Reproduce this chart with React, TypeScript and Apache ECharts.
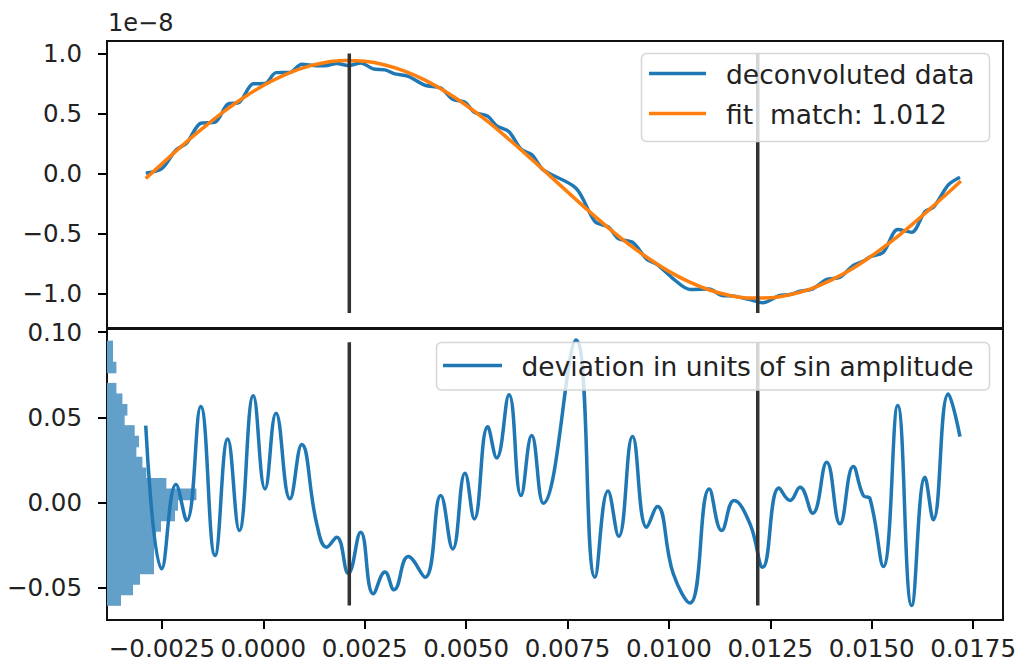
import React, { useEffect, useRef } from "react";
import * as echarts from "echarts";

const FONT = "DejaVu Sans";
const BLUE = "#1f77b4";
const ORANGE = "#ff7f0e";
const TXT = "#222";
const FS_TICK = 24.5;
const FS_LEG = 26.5;

// x in units of 1e-3
const X_MIN = -3.854;
const X_MAX = 18.237;
// first tick is put on its own axis so that its (overlapping) label is kept
const xTicksFirst = [-2.5];
const xTicksRest = [0, 2.5, 5, 7.5, 10, 12.5, 15, 17.5];
const topYTicks = [-1, -0.5, 0, 0.5, 1];
const botYTicks = [-0.05, 0, 0.05, 0.1];

// fit (orange), values in units of 1e-8
const xFit = [-2.9, -2.5, -2.0, -1.5, -1.0, -0.5, 0.0, 0.5, 1.0, 1.5, 2.0, 2.5, 3.0, 3.5, 4.0, 4.5, 5.0, 5.5, 6.0, 6.5, 7.0, 7.5, 8.0, 8.5, 9.0, 9.5, 10.0, 10.5, 11.0, 11.5, 12.0, 12.5, 13.0, 13.5, 14.0, 14.5, 15.0, 15.5, 16.0, 16.5, 17.0, 17.2];
const yFit = [-0.040, 0.082, 0.234, 0.377, 0.511, 0.630, 0.734, 0.818, 0.883, 0.923, 0.941, 0.935, 0.905, 0.852, 0.777, 0.682, 0.570, 0.443, 0.302, 0.155, 0.003, -0.151, -0.303, -0.448, -0.583, -0.705, -0.812, -0.900, -0.967, -1.012, -1.034, -1.032, -1.005, -0.957, -0.885, -0.794, -0.683, -0.559, -0.421, -0.274, -0.123, -0.061];

// data sample positions (shared by deconvoluted data and deviation)
const xData = [-2.899, -2.505, -2.152, -1.889, -1.543, -1.191, -0.878, -0.592, -0.247, 0.042, 0.313, 0.658, 0.947, 1.317, 1.563, 1.810, 2.096, 2.401, 2.712, 3.000, 3.222, 3.575, 3.987, 4.374, 4.670, 4.973, 5.202, 5.533, 5.754, 6.058, 6.354, 6.617, 6.903, 7.710, 8.178, 8.499, 8.762, 9.103, 9.453, 9.714, 10.108, 10.520, 10.996, 11.302, 11.605, 11.999, 12.313, 12.714, 12.986, 13.232, 13.545, 13.891, 14.218, 14.546, 14.793, 14.958, 15.286, 15.641, 15.986, 16.314, 16.519, 16.889, 17.177];
const yData = [0.005, 0.042, 0.198, 0.255, 0.420, 0.429, 0.578, 0.594, 0.748, 0.750, 0.841, 0.843, 0.911, 0.898, 0.901, 0.917, 0.900, 0.921, 0.872, 0.864, 0.833, 0.810, 0.736, 0.713, 0.619, 0.594, 0.511, 0.478, 0.398, 0.349, 0.203, 0.159, 0.032, -0.120, -0.399, -0.441, -0.541, -0.570, -0.710, -0.755, -0.874, -0.962, -0.959, -1.013, -1.018, -1.047, -1.073, -1.015, -1.005, -0.977, -0.957, -0.879, -0.860, -0.763, -0.727, -0.691, -0.653, -0.464, -0.486, -0.315, -0.280, -0.093, -0.029];
const yDev = [0.0451, -0.0389, 0.0106, -0.0106, 0.0563, -0.0311, 0.0373, -0.0164, 0.0627, 0.0080, 0.0524, 0.0022, 0.0340, -0.0125, -0.0262, -0.0203, -0.0416, -0.0174, -0.0535, -0.0408, -0.0512, -0.0317, -0.0438, 0.0041, -0.0272, 0.0172, -0.0096, 0.0445, 0.0262, 0.0633, 0.0041, 0.0393, -0.0004, 0.0954, -0.0438, 0.0068, -0.0198, 0.0388, -0.0145, -0.0023, -0.0418, -0.0590, 0.0080, -0.0164, 0.0012, -0.0125, -0.0379, 0.0085, 0.0012, 0.0090, -0.0063, 0.0236, -0.0125, 0.0211, 0.0041, 0.0022, -0.0375, 0.0569, -0.0604, 0.0148, -0.0101, 0.0637, 0.0387];

// vertical marker lines
const vlineX = [2.12, 12.19];
const vlineTopRange = [-1.158, 1.0];
const vlineBotRange = [-0.0604, 0.094];

// horizontal histogram of deviations
const histEdges = [0.0947, 0.0885, 0.0823, 0.0761, 0.0699, 0.0637, 0.0575, 0.0513, 0.0451, 0.0389, 0.0327, 0.0265, 0.0203, 0.0141, 0.0079, 0.0017, -0.0045, -0.0107, -0.0169, -0.0231, -0.0293, -0.0355, -0.0417, -0.0479, -0.0541, -0.0603];
const histLengths = [0.148, 0.148, 0.232, 0, 0.232, 0.380, 0.503, 0.436, 0.683, 0.789, 0.725, 0.873, 0.971, 1.464, 2.204, 1.750, 1.677, 1.331, 1.208, 1.159, 1.159, 1.159, 0.814, 0.641, 0.345];

const minus = (s: string) => s.replace("-", "\u2212");
const fmt = (v: number, d: number) => (v < -1e-12 ? "\u2212" : "") + Math.abs(v).toFixed(d);

function buildOption() {
  const zip = (xs: number[], ys: number[]) => xs.map((x, i) => [x, ys[i]]);
  const histData = histLengths.map((len, i) => [histEdges[i], histEdges[i + 1], len]);
  const vlineSeries = (gi: number, range: number[]) =>
    vlineX.map((x) => ({
      type: "line",
      xAxisIndex: gi,
      yAxisIndex: gi,
      data: [[x, range[0]], [x, range[1]]],
      showSymbol: false,
      lineStyle: { color: "#333", width: 3.5 },
      z: 5,
      silent: true,
    }));
  const labelStyle = {
    fontFamily: FONT, fontSize: FS_TICK, color: TXT,
    showMinLabel: true, showMaxLabel: true, hideOverlap: false,
  };
  const tick = { show: true, length: 9, lineStyle: { color: "#000", width: 2 } };
  const noLine = { show: false, onZero: false };
  const gridBase = {
    left: 107, width: 896, show: true, borderColor: "#111", borderWidth: 2,
    backgroundColor: "transparent", containLabel: false, outerBoundsMode: "none",
  };
  const bottomX = (ticks: number[]) => ({
    type: "value", gridIndex: 1, min: X_MIN, max: X_MAX, position: "bottom", offset: 0,
    axisLine: noLine, splitLine: { show: false },
    axisTick: { ...tick, customValues: ticks },
    axisLabel: { ...labelStyle, margin: 16, customValues: ticks, formatter: (v: number) => fmt(v / 1000, 4) },
  });

  return {
    animation: false,
    backgroundColor: "#fff",
    grid: [
      { ...gridBase, top: 41, height: 287 },
      { ...gridBase, top: 329, height: 291 },
    ],
    xAxis: [
      {
        type: "value", gridIndex: 0, min: X_MIN, max: X_MAX, position: "bottom",
        axisLine: noLine, axisTick: { show: false }, axisLabel: { show: false }, splitLine: { show: false },
      },
      bottomX(xTicksRest),
      bottomX(xTicksFirst),
    ],
    yAxis: [
      {
        type: "value", gridIndex: 0, min: -1.283, max: 1.104, position: "left",
        axisLine: noLine, splitLine: { show: false },
        axisTick: { ...tick, customValues: topYTicks },
        axisLabel: { ...labelStyle, margin: 25, customValues: topYTicks, formatter: (v: number) => fmt(v, 1) },
      },
      {
        type: "value", gridIndex: 1, min: -0.0689, max: 0.1018, position: "left",
        axisLine: noLine, splitLine: { show: false },
        axisTick: { ...tick, customValues: botYTicks },
        axisLabel: { ...labelStyle, margin: 25, customValues: botYTicks, formatter: (v: number) => fmt(v, 2) },
      },
    ],
    series: [
      {
        type: "line", xAxisIndex: 0, yAxisIndex: 0, data: zip(xData, yData),
        smooth: 0.3, showSymbol: false, lineStyle: { color: BLUE, width: 3.5 }, z: 3,
      },
      {
        type: "line", xAxisIndex: 0, yAxisIndex: 0, data: zip(xFit, yFit),
        smooth: 0.4, showSymbol: false, lineStyle: { color: ORANGE, width: 3.5 }, z: 4,
      },
      ...vlineSeries(0, vlineTopRange),
      {
        type: "custom", xAxisIndex: 1, yAxisIndex: 1, data: histData, z: 2,
        renderItem: (_p: any, api: any) => {
          const hi = api.value(0);
          const lo = api.value(1);
          const len = api.value(2);
          const a = api.coord([X_MIN, hi]);
          const b = api.coord([X_MIN + len, lo]);
          return {
            type: "rect",
            shape: { x: a[0], y: a[1] - 0.5, width: b[0] - a[0], height: b[1] - a[1] + 1 },
            style: { fill: "rgb(98,160,202)", stroke: "none" },
          };
        },
      },
      {
        type: "line", xAxisIndex: 1, yAxisIndex: 1, data: zip(xData, yDev),
        smooth: 0.45, showSymbol: false, lineStyle: { color: BLUE, width: 3.5 }, z: 3,
      },
      ...vlineSeries(1, vlineBotRange),
    ],
    graphic: [
      { type: "text", z: 100, style: { text: minus("1e-8"), x: 108, y: 23, fontFamily: FONT, fontSize: 24, fill: TXT, verticalAlign: "middle", align: "left" } },
      // top legend
      { type: "rect", z: 100, shape: { x: 641.5, y: 53.5, width: 348, height: 88, r: 5 }, style: { fill: "rgba(255,255,255,0.8)", stroke: "#d6d6d6", lineWidth: 1.5 } },
      { type: "line", z: 101, shape: { x1: 649, y1: 73.5, x2: 706, y2: 73.5 }, style: { stroke: BLUE, lineWidth: 3.5 } },
      { type: "text", z: 101, style: { text: "deconvoluted data", x: 726, y: 74, fontFamily: FONT, fontSize: FS_LEG, fill: TXT, verticalAlign: "middle", align: "left" } },
      { type: "line", z: 101, shape: { x1: 649, y1: 113.5, x2: 706, y2: 113.5 }, style: { stroke: ORANGE, lineWidth: 3.5 } },
      { type: "text", z: 101, style: { text: "fit  match: 1.012", x: 726, y: 114, fontFamily: FONT, fontSize: FS_LEG, fill: TXT, verticalAlign: "middle", align: "left" } },
      // bottom legend
      { type: "rect", z: 100, shape: { x: 436.5, y: 342.5, width: 553, height: 47.5, r: 5 }, style: { fill: "rgba(255,255,255,0.8)", stroke: "#d6d6d6", lineWidth: 1.5 } },
      { type: "line", z: 101, shape: { x1: 443, y1: 365.5, x2: 502, y2: 365.5 }, style: { stroke: BLUE, lineWidth: 3.5 } },
      { type: "text", z: 101, style: { text: "deviation in units of sin amplitude", x: 521.5, y: 366, fontFamily: FONT, fontSize: FS_LEG, fill: TXT, verticalAlign: "middle", align: "left" } },
    ],
  };
}

export default function App() {
  const ref = useRef<HTMLDivElement>(null);
  useEffect(() => {
    if (!ref.current) return;
    const chart = echarts.init(ref.current, null, { renderer: "svg" });
    chart.setOption(buildOption() as any);
    return () => chart.dispose();
  }, []);
  return (
    <div
      ref={ref}
      style={{ position: "fixed", left: 0, top: 0, width: 1017, height: 664, background: "#fff" }}
    />
  );
}
